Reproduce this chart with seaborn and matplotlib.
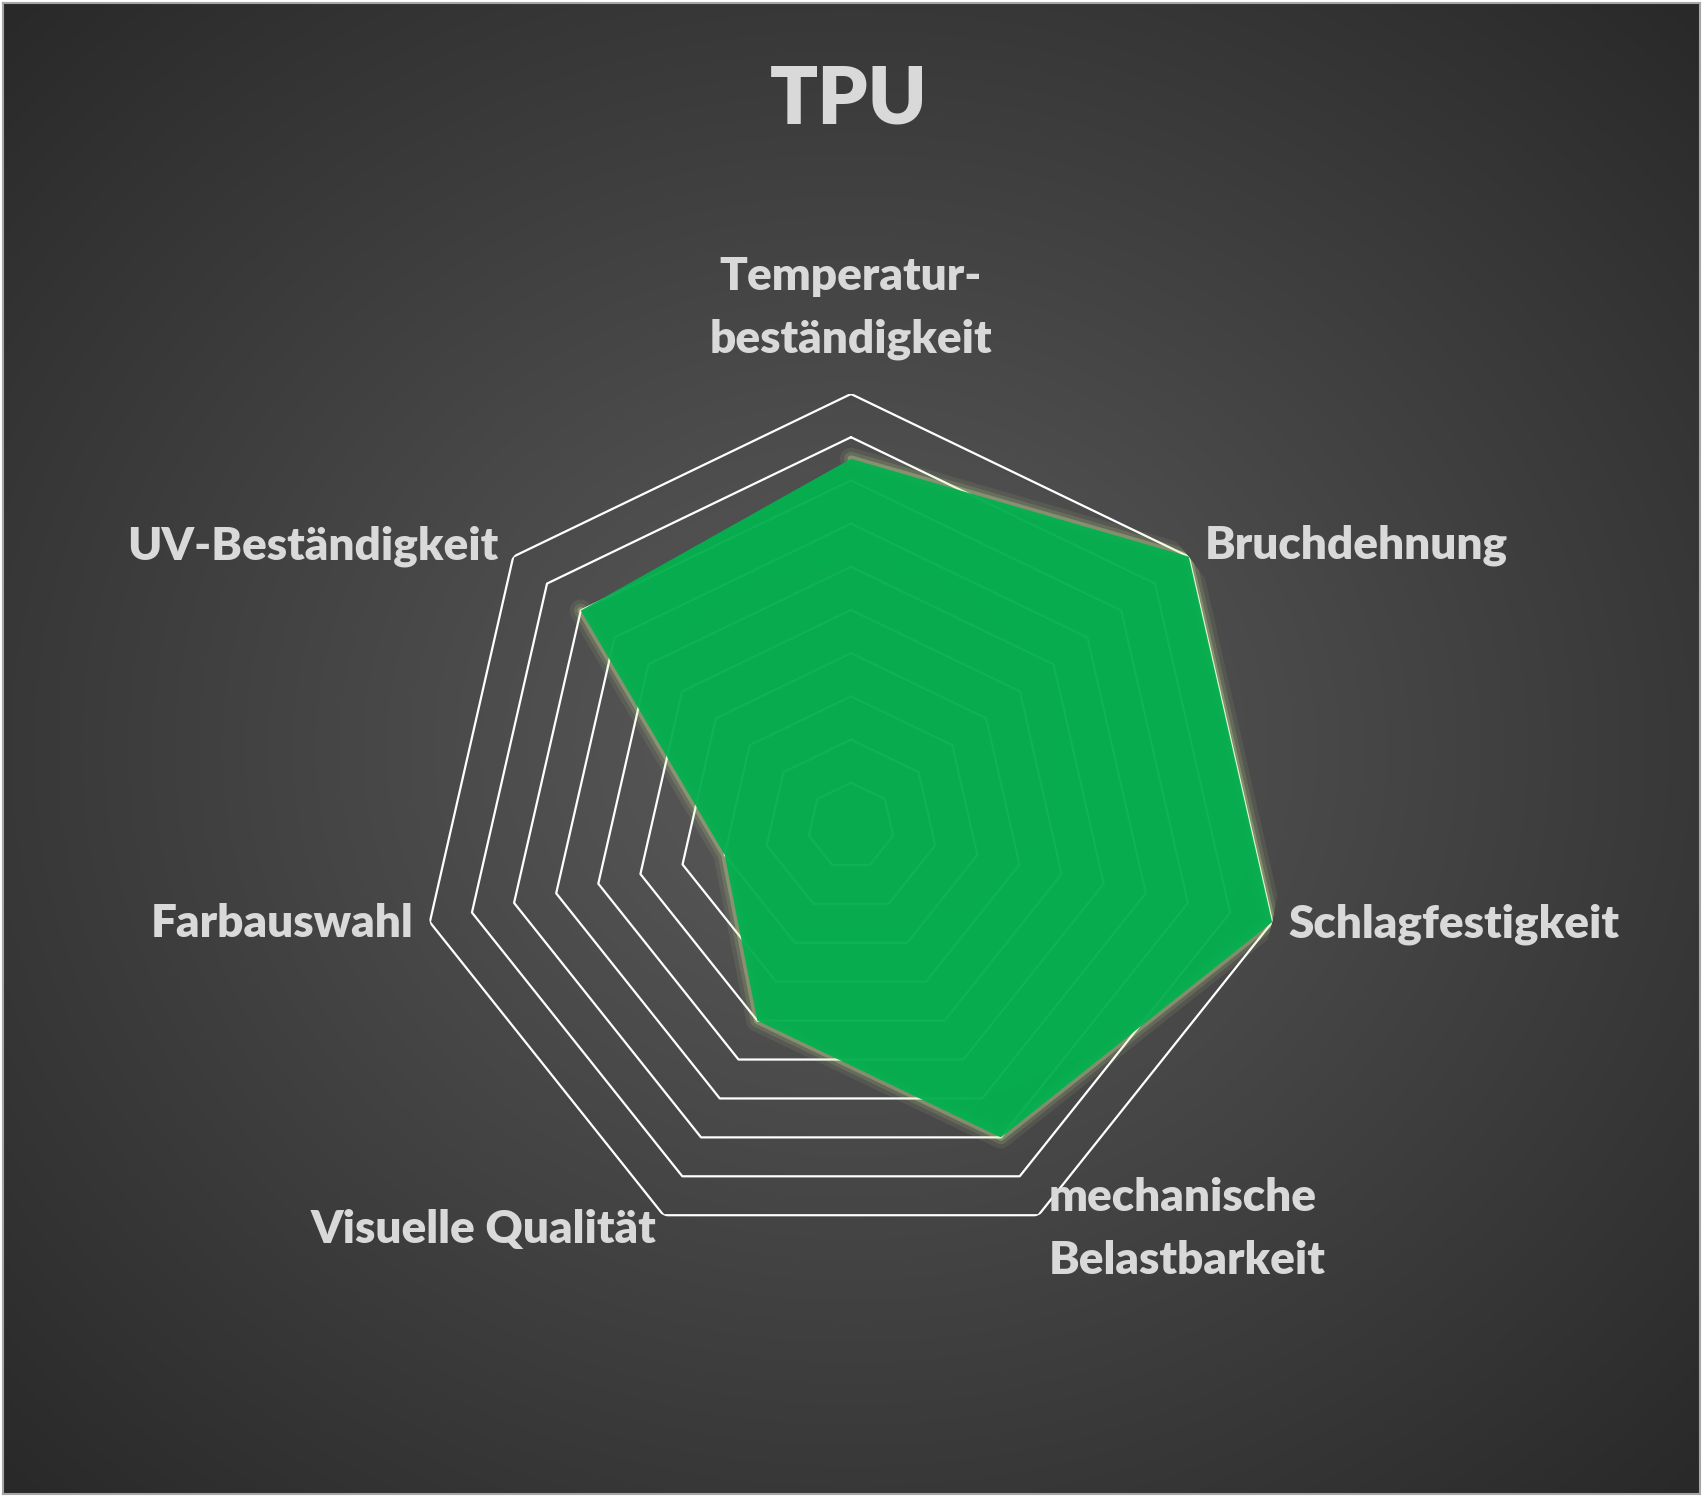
import numpy as np
import pandas as pd
import matplotlib
matplotlib.use("Agg")
import matplotlib.pyplot as plt
import seaborn as sns

# data
categories = ["Temperatur-\nbeständigkeit", "Bruchdehnung", "Schlagfestigkeit",
              "mechanische\nBelastbarkeit", "Visuelle Qualität", "Farbauswahl",
              "UV-Beständigkeit"]
scores = [8.5, 10, 10, 8, 5, 3, 8]
levels = [1, 2, 3, 4, 5, 6, 7, 8, 9, 10]
title = "TPU"

W, H = 1705, 1503
sns.set_theme(style="white")
plt.rcParams["font.family"] = ["Lato", "DejaVu Sans"]

text_col = "#D9D9D9"
green = "#05B04F"


def px(x, y):
    return x / W, 1 - y / H


fig = plt.figure(figsize=(W / 100, H / 100), dpi=100, facecolor="white")

# background with radial gradient + thin gray frame
bg = fig.add_axes([3 / W, 9 / H, 1697 / W, 1491 / H])
yy, xx = np.mgrid[-1:1:400j, -1:1:450j]
rr = np.sqrt(xx ** 2 + yy ** 2) / np.sqrt(2)
shade = 0.36 - 0.2 * rr
bg.imshow(np.dstack([shade, shade, shade]), aspect="auto", extent=[0, 1, 0, 1], interpolation="bicubic")
bg.set_xticks([])
bg.set_yticks([])
for s in bg.spines.values():
    s.set_color("#A6A6A6")
    s.set_linewidth(1.5)

# radar axes
cx, cy, rad = 851, 826, 432
ax = fig.add_axes([(cx - rad) / W, (H - cy - rad) / H, 2 * rad / W, 2 * rad / H], projection="polar")
ax.set_facecolor("none")
ax.set_theta_offset(np.pi / 2)
ax.set_theta_direction(-1)
ax.set_ylim(0, 10)
ax.grid(False)
ax.spines["polar"].set_visible(False)
ax.set_xticks([])
ax.set_yticks([])

n = len(categories)
angles = np.linspace(0, 2 * np.pi, n, endpoint=False)
ang_c = np.append(angles, angles[0])

for lv in levels:
    ax.plot(ang_c, [lv] * (n + 1), color="white", lw=1.6, zorder=2)

df = pd.DataFrame({"theta": ang_c, "r": scores + [scores[0]]})
# soft glow around the area
for lw, a in [(16, 0.08), (10, 0.13), (5, 0.28)]:
    sns.lineplot(data=df, x="theta", y="r", sort=False, ax=ax, color="#D6EFA0",
                 lw=lw, alpha=a, zorder=3, legend=False)
ax.fill(ang_c, df["r"], color=green, alpha=0.965, zorder=4, lw=0)
ax.set_xlabel("")
ax.set_ylabel("")

# labels
fs = 33
kw = dict(fontsize=fs, fontweight="heavy", color=text_col, va="baseline")
fig.text(*px(851, 353), categories[0], ha="center", linespacing=1.64,
         multialignment="center", **kw)
fig.text(*px(1205, 558), categories[1], ha="left", **kw)
fig.text(*px(1288, 937), categories[2], ha="left", **kw)
fig.text(*px(1049, 1274), categories[3], ha="left", linespacing=1.64,
         multialignment="left", **kw)
fig.text(*px(656, 1243), categories[4], ha="right", **kw)
fig.text(*px(413, 937), categories[5], ha="right", **kw)
fig.text(*px(498, 559), categories[6], ha="right", **kw)

fig.text(*px(849, 123), title, ha="center", va="baseline", fontsize=57,
         fontweight="heavy", color=text_col)

fig.savefig("out.png", dpi=100, facecolor="white")
